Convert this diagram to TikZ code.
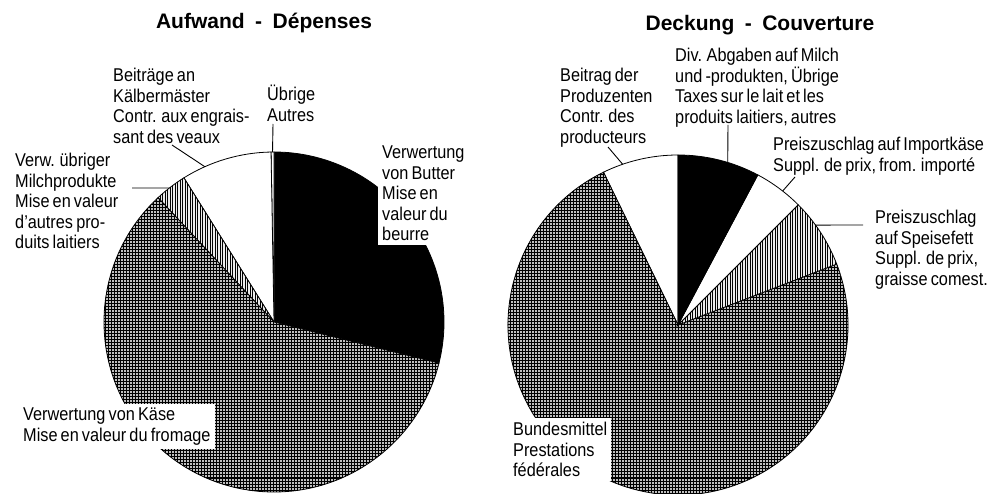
\documentclass[tikz,border=0pt]{standalone}
\usepackage{fontspec}
\setmainfont{Liberation Sans}[FakeStretch=0.88,WordSpace=0.7]
\newfontfamily\titlefont{Liberation Sans}
\usetikzlibrary{patterns}
% fine grid and vertical hatch like the printed screens
\pgfdeclarepatternformonly{finegrid}{\pgfqpoint{-1pt}{-1pt}}{\pgfqpoint{4pt}{4pt}}{\pgfqpoint{3pt}{3pt}}%
{\pgfsetlinewidth{1pt}\pgfpathmoveto{\pgfqpoint{-1pt}{0pt}}\pgfpathlineto{\pgfqpoint{4pt}{0pt}}%
\pgfpathmoveto{\pgfqpoint{0pt}{-1pt}}\pgfpathlineto{\pgfqpoint{0pt}{4pt}}\pgfusepath{stroke}}
\pgfdeclarepatternformonly{vhatch}{\pgfqpoint{-1pt}{-1pt}}{\pgfqpoint{3.5pt}{3.5pt}}{\pgfqpoint{2.5pt}{2.5pt}}%
{\pgfsetlinewidth{1pt}\pgfpathmoveto{\pgfqpoint{0pt}{-1pt}}\pgfpathlineto{\pgfqpoint{0pt}{3.5pt}}\pgfusepath{stroke}}
\begin{document}
\begin{tikzpicture}[x=1pt,y=1pt,
  lbl/.style={anchor=north west,align=left,inner sep=0pt,font=\fontsize{18.5}{20.5}\selectfont},
  box/.style={lbl,fill=white,inner sep=4pt},
  ttl/.style={font=\titlefont\bfseries\fontsize{21}{24}\selectfont},
  lead/.style={line width=0.9pt},
  slice/.style={draw=black,line width=0.8pt},
  chz/.style={slice,fill=gray!50,postaction={pattern=finegrid}},
  hatch/.style={slice,fill=gray!15,postaction={pattern=vhatch}}]
\useasboundingbox (0,0) rectangle (1002,493);
\coordinate (cL) at (274,171);
\coordinate (cR) at (678,168);
%titles
\node[ttl] (ttlL) at (264,470) {Aufwand\enspace-\enspace Dépenses};
\node[ttl] (ttlR) at (760,468) {Deckung\enspace-\enspace Couverture};
%left pie
\draw[slice,fill=black] (cL) -- +(-14:170) arc[start angle=-14,end angle=90,radius=170] -- cycle;
\draw[slice,fill=white] (cL) -- +(90:170) arc[start angle=90,end angle=91,radius=170] -- cycle;
\draw[slice,fill=white] (cL) -- +(91:170) arc[start angle=91,end angle=122,radius=170] -- cycle;
\draw[hatch] (cL) -- +(122:170) arc[start angle=122,end angle=133,radius=170] -- cycle;
\draw[chz] (cL) -- +(133:170) arc[start angle=133,end angle=346,radius=170] -- cycle;
%right pie
\draw[slice,fill=white] (cR) -- +(90:170) arc[start angle=90,end angle=116,radius=170] -- cycle;
\draw[chz] (cR) -- +(116:170) arc[start angle=116,end angle=381,radius=170] -- cycle;
\draw[hatch] (cR) -- +(21:170) arc[start angle=21,end angle=45,radius=170] -- cycle;
\draw[slice,fill=white] (cR) -- +(45:170) arc[start angle=45,end angle=62,radius=170] -- cycle;
\draw[slice,fill=black] (cR) -- +(62:170) arc[start angle=62,end angle=90,radius=170] -- cycle;
%labels left
\node[lbl] (lblBeitraege) at (113,425) {Beiträge an\\Kälbermäster\\Contr. aux engrais-\\sant des veaux};
\node[lbl] (lblUebrige) at (267,408) {Übrige\\Autres};
\node[lbl] (lblMilch) at (15,340) {Verw. übriger\\Milchprodukte\\Mise en valeur\\d'autres pro-\\duits laitiers};
\node[box] (lblButter) at (378,351) {Verwertung\\von Butter\\Mise en\\valeur du\\beurre};
\node[box] (lblKaese) at (19,89) {Verwertung von Käse\\Mise en valeur du fromage};
%labels right
\node[lbl] (lblProd) at (560,425) {Beitrag der\\Produzenten\\Contr. des\\producteurs};
\node[lbl] (lblAbgaben) at (675,445) {Div. Abgaben auf Milch\\und -produkten, Übrige\\Taxes sur le lait et les\\produits laitiers, autres};
\node[lbl] (lblImport) at (773,356) {Preiszuschlag auf Importkäse\\Suppl. de prix, from. importé};
\node[lbl] (lblFett) at (875,283) {Preiszuschlag\\auf Speisefett\\Suppl. de prix,\\graisse comest.};
\node[box] (lblBund) at (509,75) {Bundesmittel\\Prestations\\fédérales};
%leader lines
\path (cL) ++(90.5:170) coordinate (rimUeb);
\path (cL) ++(114:170) coordinate (rimBei);
\path (cL) ++(128:170) coordinate (rimMil);
\path (cR) ++(109:170) coordinate (rimProd);
\path (cR) ++(73:170) coordinate (rimAbg);
\path (cR) ++(52:170) coordinate (rimImp);
\path (cR) ++(36:170) coordinate (rimFett);
\coordinate (endUeb) at (273,369);
\coordinate (endBei) at (172,348);
\coordinate (endMil) at (132,305);
\coordinate (endProd) at (608,346);
\coordinate (endAbg) at (728,368);
\coordinate (endImp) at (795,316);
\coordinate (endFett) at (863,268);
\draw[lead] (endUeb) -- (rimUeb);
\draw[lead] (endBei) -- (rimBei);
\draw[lead] (endMil) -- (rimMil);
\draw[lead] (endProd) -- (rimProd);
\draw[lead] (endAbg) -- (rimAbg);
\draw[lead] (endImp) -- (rimImp);
\draw[lead] (endFett) -- (rimFett);
\end{tikzpicture}
\end{document}
